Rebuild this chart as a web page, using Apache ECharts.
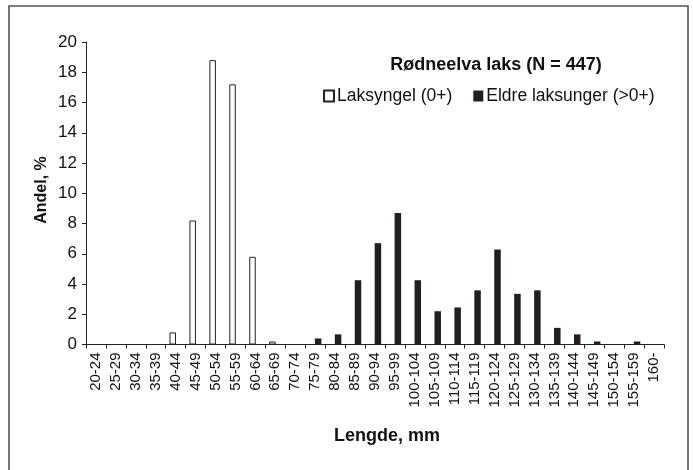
<!DOCTYPE html>
<html><head><meta charset="utf-8">
<script src="https://cdn.jsdelivr.net/npm/echarts@6/dist/echarts.min.js"></script>
<style>html,body{margin:0;padding:0;background:#fff}#c{width:693px;height:470px}</style>
</head><body><div id="c"></div>
<script>
const categories = ["20-24","25-29","30-34","35-39","40-44","45-49","50-54","55-59","60-64","65-69","70-74","75-79","80-84","85-89","90-94","95-99","100-104","105-109","110-114","115-119","120-124","125-129","130-134","135-139","140-144","145-149","150-154","155-159","160-"];
const laksyngel = [0,0,0,0,0.8,8.2,18.8,17.2,5.8,0.2,0,0,0,0,0,0,0,0,0,0,0,0,0,0,0,0,0,0,0];
const eldre = [0,0,0,0,0,0,0,0,0,0,0,0.4,0.67,4.25,6.7,8.7,4.25,2.2,2.45,3.58,6.28,3.35,3.58,1.1,0.67,0.2,0,0.2,0];
const yTicks = [0,2,4,6,8,10,12,14,16,18,20];
const titleText = "Rødneelva laks (N = 447)";
const seriesNames = ["Laksyngel (0+)","Eldre laksunger (>0+)"];

const font = "Liberation Sans, Arial, Helvetica, sans-serif";
const chart = echarts.init(document.getElementById('c'));
chart.setOption({
  animation: false,
  backgroundColor: '#fff',
  textStyle: {fontFamily: font},
  title: {
    text: titleText, left: 491, top: 51, textAlign: 'center',
    textStyle: {fontFamily: font, fontSize: 18, fontWeight: 'bold', color: '#111'}
  },
  legend: {
    data: seriesNames, left: 318, top: 82, itemWidth: 10, itemHeight: 11, itemGap: 21,
    textStyle: {fontFamily: font, fontSize: 17.5, color: '#111', padding:[0,0,0,-2]},
    icon: 'rect'
  },
  graphic: [
    {type: 'rect', shape: {x: 9, y: 6, width: 679, height: 480}, style: {fill: 'none', stroke: '#555', lineWidth: 1.6}, silent: true},
    {type: 'text', style: {text: 'Lengde, mm', x: 387, y: 436, textAlign: 'center', textVerticalAlign: 'middle', fontFamily: font, fontSize: 18, fontWeight: 'bold', fill: '#111'}},
    {type: 'text', rotation: Math.PI/2, x: 42, y: 190, style: {text: 'Andel, %', textAlign: 'center', textVerticalAlign: 'middle', fontFamily: font, fontSize: 16, fontWeight: 'bold', fill: '#111'}}
  ],
  grid: {left: 86, right: 29, top: 42, bottom: 125.5, containLabel: false},
  xAxis: {
    type: 'category', data: categories, boundaryGap: true,
    axisLine: {lineStyle: {color: '#222', width: 1}},
    axisTick: {show: true, length: 4, inside: false, alignWithLabel: false, lineStyle: {color: '#222'}},
    axisLabel: {rotate: 90, interval: 0, margin: 8, fontFamily: font, fontSize: 15, color: '#111'},
    splitLine: {show: false}
  },
  yAxis: {
    type: 'value', min: yTicks[0], max: yTicks[yTicks.length-1], interval: 2,
    axisLine: {show: true, lineStyle: {color: '#222', width: 1}},
    axisTick: {show: true, length: 4, lineStyle: {color: '#222'}},
    axisLabel: {margin: 9, fontFamily: font, fontSize: 17, color: '#111'},
    splitLine: {show: false}
  },
  series: [
    {name: seriesNames[0], type: 'bar', data: laksyngel, barWidth: 6.5, barGap: '-10%',
     itemStyle: {color: '#fff', borderColor: '#222', borderWidth: 1}},
    {name: seriesNames[1], type: 'bar', data: eldre, barWidth: 6.5,
     itemStyle: {color: '#231f20', borderColor: '#231f20', borderWidth: 0}}
  ]
});
</script></body></html>
